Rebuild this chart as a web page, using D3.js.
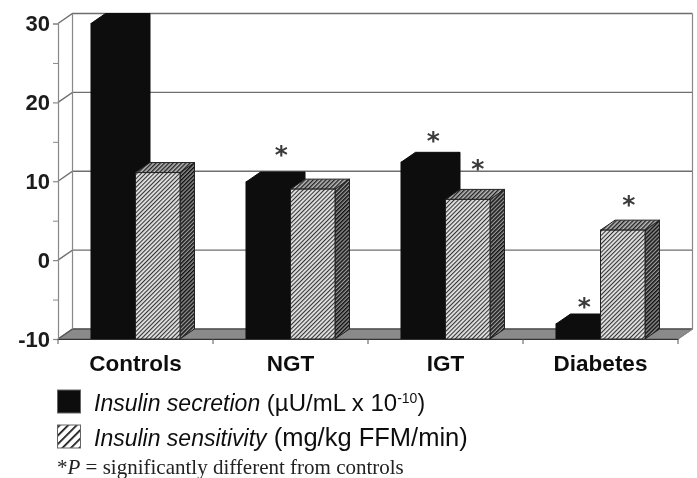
<!DOCTYPE html>
<html>
<head>
<meta charset="utf-8">
<script src="https://cdn.jsdelivr.net/npm/d3@7"></script>
<style>
  html, body { margin: 0; padding: 0; background: #fff; overflow: hidden; }
  svg { display: block; }
</style>
</head>
<body>
<svg></svg>
<script>
'use strict';

//values
var categories = ['Controls', 'NGT', 'IGT', 'Diabetes'];
var secretion = [30, 9.9, 12.4, -8.1];
var sensitivity = [11.1, 9, 7.7, 3.8];
var secretionStar = [false, true, true, true];
var sensitivityStar = [false, false, true, true];
var yTicks = [-10, 0, 10, 20, 30];
var yMinorTicks = [-5, 5, 15, 25];

var SVG_SIZE = { width: 697, height: 478 };
var PLOT = { left: 58, right: 678, top: 23.5, bottom: 339 };
var DEPTH = { x: 14.5, y: -10 };
var BAR_WIDTH = 44.5;
var LINE_GREY = '#6e6e6e';
var LABEL_FONT = '"Liberation Sans", Arial, sans-serif';

var svg = d3.select('svg')
    .attr('width', SVG_SIZE.width).attr('height', SVG_SIZE.height);

var defs = svg.append('defs');

//stripes running up to the right
function addHatch(id, spacing, stroke, strokeWidth, background) {
    var p = defs.append('pattern')
        .attr('id', id)
        .attr('patternUnits', 'userSpaceOnUse')
        .attr('width', spacing).attr('height', spacing)
        .attr('patternTransform', 'rotate(45)');
    p.append('rect').attr('width', spacing).attr('height', spacing).attr('fill', background);
    p.append('rect').attr('width', strokeWidth).attr('height', spacing).attr('fill', stroke);
}
addHatch('hatchFront', 3, '#333', 1.1, '#e4e4e4');
addHatch('hatchTop', 3, '#222', 1.4, '#bbb');
addHatch('hatchSide', 2.8, '#111', 1.5, '#999');
addHatch('hatchLegend', 6, '#111', 1.7, '#fff');

defs.append('filter').attr('id', 'scan')
    .attr('x', 0).attr('y', 0).attr('width', 1).attr('height', 1)
    .attr('filterUnits', 'objectBoundingBox')
    .append('feGaussianBlur').attr('stdDeviation', 0.45);

var chart = svg.append('g').attr('filter', 'url(#scan)');
chart.append('rect').attr('width', SVG_SIZE.width).attr('height', SVG_SIZE.height).attr('fill', '#fff');

var yScale = d3.scaleLinear().domain([-10, 30]).range([PLOT.bottom, PLOT.top]);
var xScale = d3.scaleBand().domain(categories).range([PLOT.left, PLOT.right]);
var line = d3.line();

//floor
chart.append('path')
    .attr('d', line([
        [PLOT.left, PLOT.bottom],
        [PLOT.left + DEPTH.x, PLOT.bottom + DEPTH.y],
        [PLOT.right + DEPTH.x, PLOT.bottom + DEPTH.y],
        [PLOT.right, PLOT.bottom]
    ]) + 'Z')
    .attr('fill', '#8a8a8a')
    .attr('stroke', '#555')
    .attr('stroke-width', 0.8);

//back wall gridlines, plus the short diagonal from the axis
yTicks.forEach(function (t) {
    var y = yScale(t);
    chart.append('path')
        .attr('d', line([
            [PLOT.left, y],
            [PLOT.left + DEPTH.x, y + DEPTH.y],
            [PLOT.right + DEPTH.x, y + DEPTH.y]
        ]))
        .attr('fill', 'none')
        .attr('stroke', t === -10 ? '#555' : LINE_GREY)
        .attr('stroke-width', 1.4);
});

//walls
chart.append('line')
    .attr('x1', PLOT.left + DEPTH.x).attr('x2', PLOT.left + DEPTH.x)
    .attr('y1', yScale(30) + DEPTH.y).attr('y2', yScale(-10) + DEPTH.y)
    .attr('stroke', '#888').attr('stroke-width', 1.2);
chart.append('path')
    .attr('d', line([
        [PLOT.right + DEPTH.x, yScale(30) + DEPTH.y],
        [PLOT.right + DEPTH.x, yScale(-10) + DEPTH.y],
        [PLOT.right, yScale(-10)]
    ]))
    .attr('fill', 'none')
    .attr('stroke', '#888').attr('stroke-width', 1.2);

//one 3d box: side, top and front faces
function drawBox(x, value, fills, stroke) {
    var y0 = yScale(-10);
    var y1 = yScale(value);
    var w = BAR_WIDTH;
    var dx = DEPTH.x;
    var dy = DEPTH.y;
    var g = chart.append('g').attr('stroke', stroke).attr('stroke-width', 1);
    g.append('path')
        .attr('d', line([[x + w, y0], [x + w + dx, y0 + dy], [x + w + dx, y1 + dy], [x + w, y1]]) + 'Z')
        .attr('fill', fills.side);
    g.append('path')
        .attr('d', line([[x, y1], [x + dx, y1 + dy], [x + w + dx, y1 + dy], [x + w, y1]]) + 'Z')
        .attr('fill', fills.top);
    g.append('rect')
        .attr('x', x).attr('y', y1)
        .attr('width', w).attr('height', y0 - y1)
        .attr('fill', fills.front);
}

var blackFills = { front: '#0b0b0b', top: '#0b0b0b', side: '#0b0b0b' };
var hatchFills = { front: 'url(#hatchFront)', top: 'url(#hatchTop)', side: 'url(#hatchSide)' };

categories.forEach(function (c, i) {
    var mid = xScale(c) + xScale.bandwidth() / 2;
    drawBox(mid - BAR_WIDTH, secretion[i], blackFills, '#0b0b0b');
    drawBox(mid, sensitivity[i], hatchFills, '#222');
});

//significance marks, nudged by hand like the figure's own
var STAR_DX = [0, 13, 10, 6];
var SECRETION_STAR_LIFT = [0, 30, 24, 20];
var SENSITIVITY_STAR_LIFT = [0, 0, 33, 28];
function drawStar(x, value, dx, lift) {
    chart.append('text')
        .attr('x', x + dx)
        .attr('y', yScale(value) - lift + 11)
        .attr('text-anchor', 'middle')
        .attr('font-family', '"DejaVu Sans", sans-serif')
        .attr('font-weight', 'bold')
        .attr('font-size', 25)
        .attr('fill', '#3a3a3a')
        .text('*');
}
categories.forEach(function (c, i) {
    var mid = xScale(c) + xScale.bandwidth() / 2;
    if (secretionStar[i]) drawStar(mid - BAR_WIDTH / 2, secretion[i], STAR_DX[i], SECRETION_STAR_LIFT[i]);
    if (sensitivityStar[i]) drawStar(mid + BAR_WIDTH / 2, sensitivity[i], STAR_DX[i], SENSITIVITY_STAR_LIFT[i]);
});

//left axis: labelled ticks, then the unlabelled minor ones
var yAxis = d3.axisLeft(yScale).tickValues(yTicks).tickSize(5).tickPadding(3)
    .tickFormat(function (d) { return String(d); });
var yG = chart.append('g')
    .attr('transform', 'translate(' + PLOT.left + ',0)')
    .call(yAxis);
yG.selectAll('.domain, .tick line').attr('stroke', '#888').attr('stroke-width', 1.2);
yG.selectAll('text')
    .attr('font-family', LABEL_FONT)
    .attr('font-weight', 'bold')
    .attr('font-size', 22)
    .attr('fill', '#1a1a1a');

var yMinor = d3.axisLeft(yScale).tickValues(yMinorTicks).tickSize(5).tickFormat('');
var yMinorG = chart.append('g')
    .attr('transform', 'translate(' + PLOT.left + ',0)')
    .call(yMinor);
yMinorG.select('.domain').remove();
yMinorG.selectAll('.tick line').attr('stroke', '#888').attr('stroke-width', 1);

//bottom axis: labels from the band scale, ticks on the band edges
var xAxis = d3.axisBottom(xScale).tickSize(0).tickPadding(16);
var xG = chart.append('g')
    .attr('transform', 'translate(0,' + PLOT.bottom + ')')
    .call(xAxis);
xG.select('.domain').attr('stroke', '#333').attr('stroke-width', 1.2);
xG.selectAll('text')
    .attr('font-family', LABEL_FONT)
    .attr('font-weight', 'bold')
    .attr('font-size', 22.5)
    .attr('fill', '#111');

categories.concat([null]).forEach(function (c) {
    var x = c === null ? PLOT.right : xScale(c);
    chart.append('line')
        .attr('x1', x).attr('x2', x)
        .attr('y1', PLOT.bottom).attr('y2', PLOT.bottom + 5)
        .attr('stroke', '#555').attr('stroke-width', 1);
});

//legend
var legendItems = [
    { fill: '#0b0b0b', name: 'Insulin secretion', unit: ' (\u00b5U/mL x 10', sup: '-10', end: ')', size: 24, y: 390 },
    { fill: 'url(#hatchLegend)', name: 'Insulin sensitivity', unit: ' (mg/kg FFM/min)', size: 25.5, y: 425 }
];
legendItems.forEach(function (d) {
    chart.append('rect')
        .attr('x', 57.5).attr('y', d.y)
        .attr('width', 23).attr('height', 23)
        .attr('fill', d.fill)
        .attr('stroke', '#666').attr('stroke-width', 1);
    var t = chart.append('text')
        .attr('x', 94).attr('y', d.y + 21)
        .attr('font-family', LABEL_FONT)
        .attr('font-size', 23)
        .attr('fill', '#111');
    t.append('tspan').attr('font-style', 'italic').text(d.name);
    t.append('tspan').attr('font-size', d.size).text(d.unit);
    if (d.sup) {
        t.append('tspan').attr('font-size', 14).attr('dy', -8).text(d.sup);
        t.append('tspan').attr('dy', 8).text(d.end);
    }
});

//footnote
var note = chart.append('text')
    .attr('x', 57).attr('y', 473.5)
    .attr('font-family', '"Liberation Serif", "Times New Roman", serif')
    .attr('font-size', 21)
    .attr('fill', '#222');
note.append('tspan').text('*');
note.append('tspan').attr('font-style', 'italic').text('P');
note.append('tspan').text(' = significantly different from controls');
</script>
</body>
</html>
